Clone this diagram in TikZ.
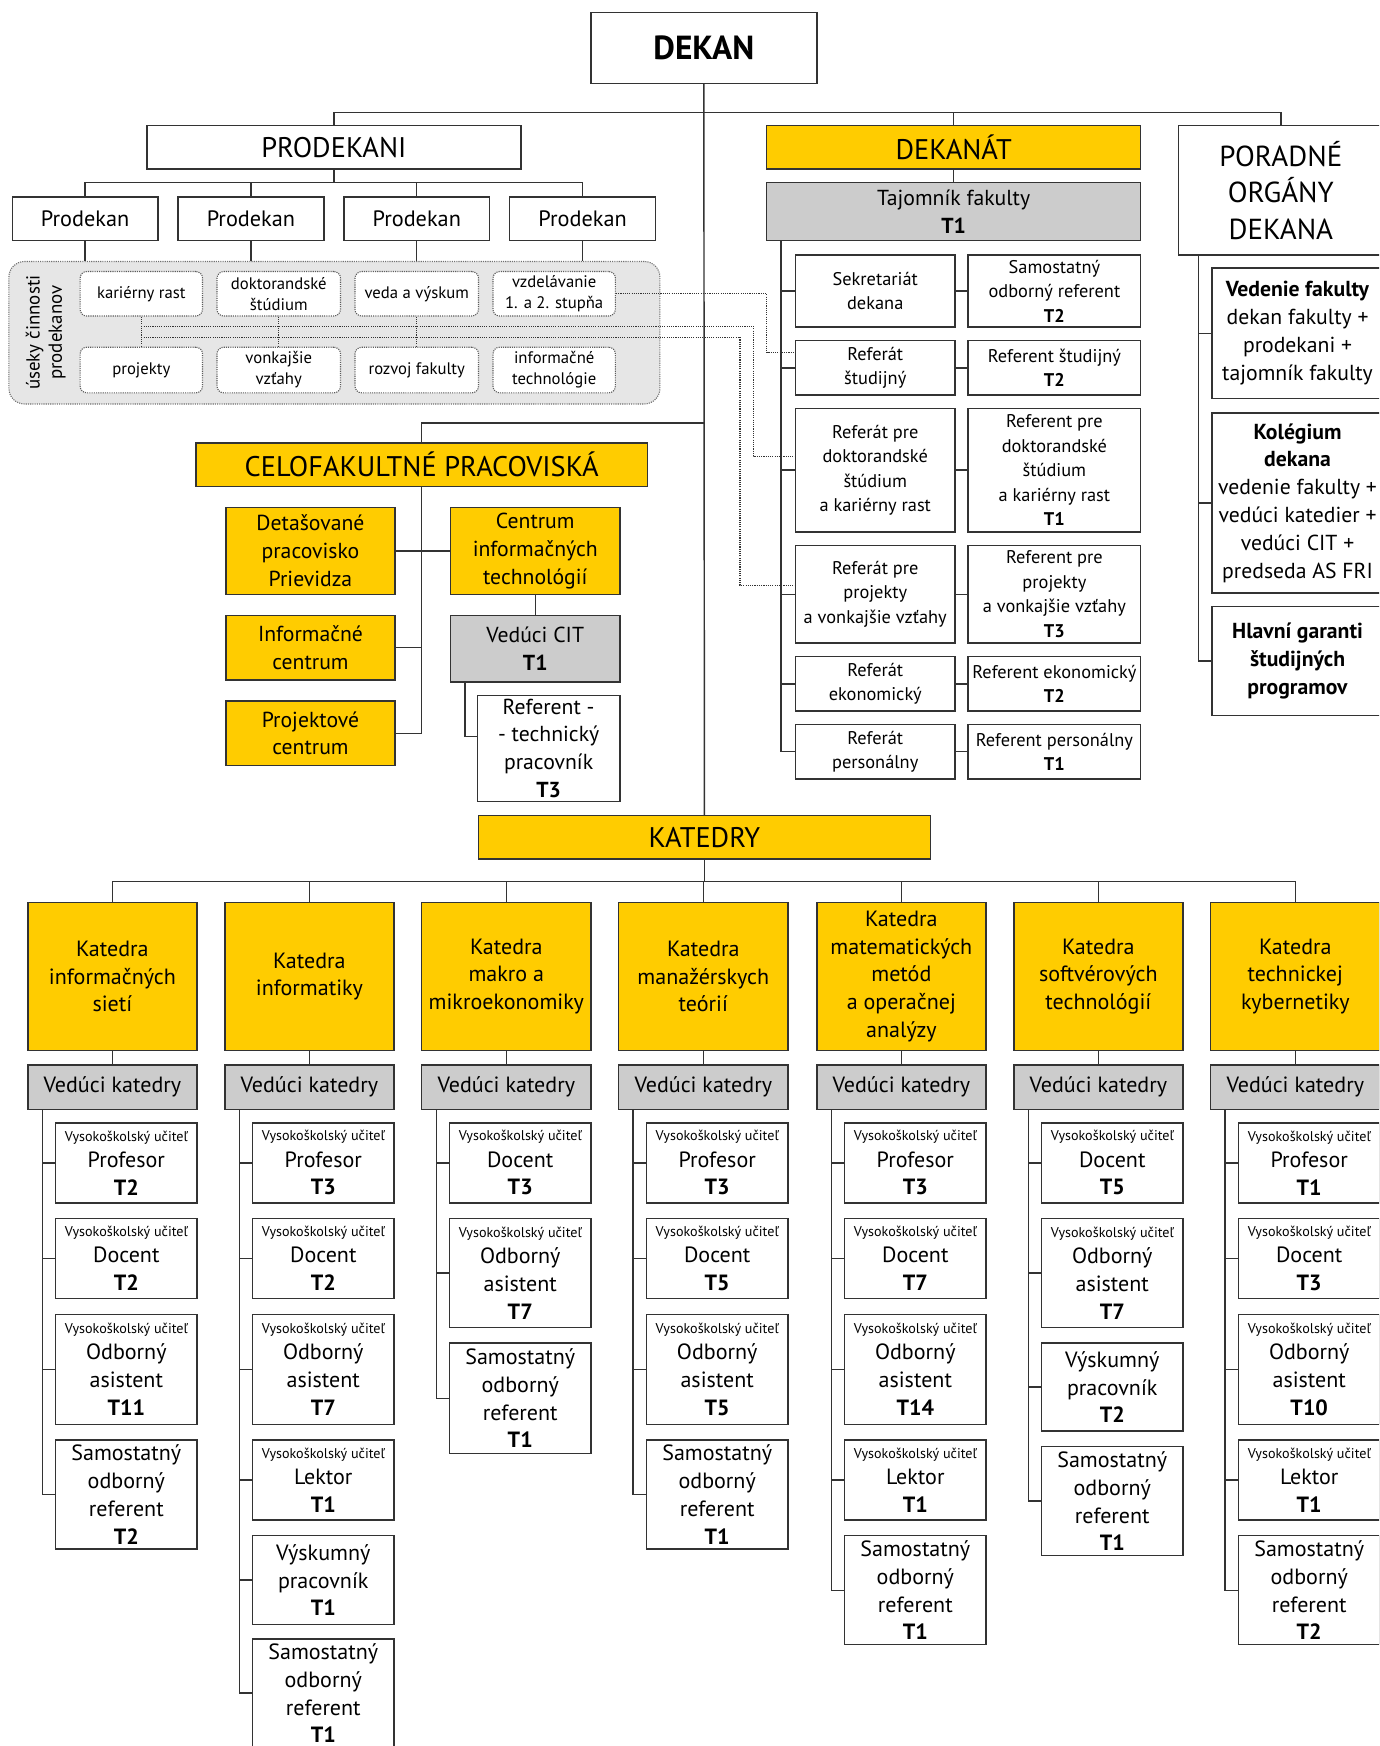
\documentclass[tikz,border=0pt]{standalone}
\usepackage{fontspec}
\setmainfont{PT Sans}
\definecolor{yel}{HTML}{FFCC00}
\definecolor{gr}{HTML}{CCCCCC}
\definecolor{ln}{HTML}{333333}
\definecolor{usbg}{HTML}{E6E6E6}
\newcommand\fdekan{\fontsize{30}{34}\selectfont\bfseries}
\newcommand\fbig{\fontsize{25.5}{30}\selectfont}
\newcommand\fprod{\fontsize{20}{24}\selectfont}
\newcommand\fus{\fontsize{15}{19}\selectfont}
\newcommand\fusl{\fontsize{17}{20}\selectfont}
\newcommand\fdek{\fontsize{16.5}{22}\selectfont}
\newcommand\fmid{\fontsize{19.5}{25}\selectfont}
\newcommand\fpor{\fontsize{26}{33}\selectfont}
\newcommand\fch{\fontsize{19.8}{25}\selectfont}
\newcommand\fvu{\fontsize{12.7}{14}\selectfont}
\tikzset{
 base/.style={draw=ln, line width=1.3pt, inner sep=0pt, align=center, anchor=center},
 wbox/.style={base, fill=white},
 ybox/.style={base, fill=yel},
 gbox/.style={base, fill=gr},
 usk/.style={draw=ln!70, densely dotted, line width=1pt, rounded corners=14pt, fill=usbg, inner sep=0pt},
 dbox/.style={draw=ln!80, densely dotted, line width=1pt, rounded corners=6pt, fill=white, inner sep=0pt, align=center, font=\fus},
 conn/.style={draw=ln, line width=1.3pt},
 dconn/.style={draw=ln, line width=1pt, densely dotted},
}
\newcommand\bx[7]{%
 \pgfmathsetmacro\bxw{(#5)-(#3)}%
 \pgfmathsetmacro\bxh{(#6)-(#4)}%
 \pgfmathsetmacro\bxcx{((#3)+(#5))/2}%
 \pgfmathsetmacro\bxcy{((#4)+(#6))/2}%
 \node[#2, minimum width=\bxw pt, minimum height=\bxh pt] (#1) at (\bxcx,\bxcy) {#7};}
\newcommand\kc[5]{\bx{#1}{wbox,font=\fch}{(#2)+25}{#3}{(#2)+152}{#4}{#5}}
\newcommand\vu[2]{{\fvu Vysokoškolský učiteľ}\\[-1.5pt]#1\\\textbf{#2}}
\newcommand\vuoa[1]{{\fvu Vysokoškolský učiteľ}\\[-1.5pt]Odborný\\asistent\\\textbf{#1}}
\newcommand\sor[1]{Samostatný\\odborný\\referent\\\textbf{#1}}
\newcommand\kat[3]{%
 \bx{k#1}{ybox,font=\fch}{#2}{811}{(#2)+152}{944}{#3}
 \bx{v#1}{gbox,font=\fch}{#2}{957}{(#2)+152}{997}{Vedúci katedry}
 \draw[conn] (k#1.south) -- (v#1.north);
 \draw[conn] (k#1.north) -- (k#1.north |- 0,792);
 \pgfmathsetmacro\vlx{(#2)+13}
 \coordinate (vl#1) at (\vlx,997);}
\begin{document}
\begin{tikzpicture}[x=1pt,y=-1pt]
\useasboundingbox (0,0) rectangle (1240,1569);
\fill[white] (0,0) rectangle (1240,1569);
\clip (0,0) rectangle (1239.2,1569);
% ---------- top ----------
\bx{dekan}{wbox,font=\fdekan}{531}{11}{734}{75}{DEKAN}
\bx{katedry}{ybox,font=\fbig}{430}{733}{836}{772}{KATEDRY}
\draw[conn] (dekan.south) -- (katedry.north);
\bx{prodekani}{wbox,font=\fbig}{132}{113}{468}{152}{PRODEKANI}
\bx{dekanat}{ybox,font=\fbig}{689}{113}{1025}{152}{DEKANÁT}
\bx{poradne}{wbox,font=\fpor}{1059}{113}{1243}{229}{PORADNÉ\\ORGÁNY\\DEKANA}
\coordinate (hA) at (632.5,101);
\draw[conn] (prodekani.north) |- (poradne.north |- hA) -- (poradne.north);
\draw[conn] (dekanat.north) -- (dekanat.north |- hA);
% ---------- prodekani ----------
\bx{p1}{wbox,font=\fprod}{11}{177}{142}{216}{Prodekan}
\bx{p2}{wbox,font=\fprod}{160}{177}{291}{216}{Prodekan}
\bx{p3}{wbox,font=\fprod}{309}{177}{440}{216}{Prodekan}
\bx{p4}{wbox,font=\fprod}{458}{177}{589}{216}{Prodekan}
\coordinate (hP) at (300,164);
\draw[conn] (prodekani.south) -- (hP);
\draw[conn] (p1.north) |- (hP) -| (p4.north);
\draw[conn] (p2.north) -- (p2.north |- hP);
\draw[conn] (p3.north) -- (p3.north |- hP);
\bx{useky}{usk}{8}{235}{593}{363}{}
\foreach \i in {1,2,3,4} {\draw[conn] (p\i.south) -- (p\i.south |- useky.north);}
\node[rotate=90, font=\fusl, align=center, inner sep=0pt] (uslab) at (41,299) {úseky činnosti\\prodekanov};
\bx{u1}{dbox}{72}{244}{182}{284}{kariérny rast}
\bx{u2}{dbox}{195}{244}{306}{284}{doktorandské\\štúdium}
\bx{u3}{dbox}{319}{244}{430}{284}{veda a výskum}
\bx{u4}{dbox}{443}{244}{553}{284}{vzdelávanie\\1. a 2. stupňa}
\bx{u5}{dbox}{72}{312}{182}{353}{projekty}
\bx{u6}{dbox}{195}{312}{306}{353}{vonkajšie\\vzťahy}
\bx{u7}{dbox}{319}{312}{430}{353}{rozvoj fakulty}
\bx{u8}{dbox}{443}{312}{553}{353}{informačné\\technológie}
\draw[dconn] (u1.south) -- (u5.north);
\draw[dconn] (u2.south) -- (u6.north);
\draw[dconn] (u3.south) -- (u7.north);
% ---------- dekanat ----------
\bx{tajomnik}{gbox,font=\fmid}{689}{164}{1025}{216}{Tajomník fakulty\\\textbf{T1}}
\draw[conn] (dekanat.south) -- (tajomnik.north);
\bx{rsek}{wbox,font=\fdek}{715}{229}{858}{294}{Sekretariát\\dekana}
\bx{ssek}{wbox,font=\fdek}{870}{229}{1025}{294}{Samostatný\\odborný referent\\\textbf{T2}}
\bx{rstud}{wbox,font=\fdek}{715}{306}{858}{355}{Referát\\študijný}
\bx{sstud}{wbox,font=\fdek}{870}{306}{1025}{355}{Referent študijný\\\textbf{T2}}
\bx{rdok}{wbox,font=\fdek}{715}{367}{858}{478}{Referát pre\\doktorandské\\štúdium\\a kariérny rast}
\bx{sdok}{wbox,font=\fdek}{870}{367}{1025}{478}{Referent pre\\doktorandské\\štúdium\\a kariérny rast\\\textbf{T1}}
\bx{rproj}{wbox,font=\fdek}{715}{490}{858}{578}{Referát pre\\projekty\\a vonkajšie vzťahy}
\bx{sproj}{wbox,font=\fdek}{870}{490}{1025}{578}{Referent pre\\projekty\\a vonkajšie vzťahy\\\textbf{T3}}
\bx{rek}{wbox,font=\fdek}{715}{590}{858}{639}{Referát\\ekonomický}
\bx{sek}{wbox,font=\fdek}{870}{590}{1025}{639}{Referent ekonomický\\\textbf{T2}}
\bx{rper}{wbox,font=\fdek}{715}{651}{858}{700}{Referát\\personálny}
\bx{sper}{wbox,font=\fdek}{870}{651}{1025}{700}{Referent personálny\\\textbf{T1}}
\coordinate (dv) at (702,216);
\draw[conn] (dv) |- (rper.west);
\foreach \n in {rsek,rstud,rdok,rproj,rek} {\draw[conn] (\n.west) -- (\n.west -| dv);}
\draw[conn] (rsek.east) -- (ssek.west);
\draw[conn] (rstud.east) -- (sstud.west);
\draw[conn] (rdok.east) -- (sdok.west);
\draw[conn] (rproj.east) -- (sproj.west);
\draw[conn] (rek.east) -- (sek.west);
\draw[conn] (rper.east) -- (sper.west);
% dotted links
\draw[dconn] (u4.east) -| (689,317) -- (rstud.west |- 0,317);
\draw[dconn] (u1.south |- 0,293) -| (677,410) -- (rdok.west |- 0,410);
\draw[dconn] (u1.south |- 0,303) -| (665,526) -- (rproj.west |- 0,526);
% ---------- poradne ----------
\bx{vedenie}{wbox,font=\fmid}{1089}{241}{1243}{358}{\textbf{Vedenie fakulty}\\dekan fakulty +\\prodekani +\\tajomník fakulty}
\bx{kolegium}{wbox,font=\fmid}{1089}{371}{1243}{533}{\textbf{Kolégium}\\\textbf{dekana}\\vedenie fakulty +\\vedúci katedier +\\vedúci CIT +\\predseda AS FRI}
\bx{garanti}{wbox,font=\fmid}{1089}{545}{1243}{643}{\textbf{Hlavní garanti}\\\textbf{študijných}\\\textbf{programov}}
\coordinate (pv) at (1077,229);
\draw[conn] (pv) |- (garanti.west);
\draw[conn] (vedenie.west) -- (vedenie.west -| pv);
\draw[conn] (kolegium.west) -- (kolegium.west -| pv);
% ---------- celofakultne ----------
\bx{celo}{ybox,font=\fbig}{176}{398}{582}{437}{CELOFAKULTNÉ PRACOVISKÁ}
\bx{det}{ybox,font=\fmid}{203}{456}{355}{534}{Detašované\\pracovisko\\Prievidza}
\bx{cit}{ybox,font=\fmid}{405}{456}{557}{534}{Centrum\\informačných\\technológií}
\bx{inf}{ybox,font=\fmid}{203}{553}{355}{611}{Informačné\\centrum}
\bx{proj}{ybox,font=\fmid}{203}{630}{355}{688}{Projektové\\centrum}
\bx{vcit}{gbox,font=\fmid}{405}{553}{557}{613}{Vedúci CIT\\\textbf{T1}}
\bx{reftech}{wbox,font=\fmid}{429}{625}{557}{720}{Referent -\\- technický\\pracovník\\\textbf{T3}}
\draw[conn] (celo.north) |- (dekan.south |- 0,380);
\draw[conn] (celo.south) -- (celo.south |- proj.east) -- (proj.east);
\draw[conn] (det.east) -- (cit.west);
\draw[conn] (inf.east) -- (inf.east -| celo.south);
\draw[conn] (cit.south) -- (vcit.north);
\draw[conn] (vcit.south -| 418,0) |- (reftech.west |- 0,662);
% ---------- katedry ----------
\draw[conn] (katedry.south) -- (katedry.south |- 0,792);
\kat{1}{25}{Katedra\\informačných\\sietí}
\kat{2}{202}{Katedra\\informatiky}
\kat{3}{379}{Katedra\\makro a\\mikroekonomiky}
\kat{4}{556}{Katedra\\manažérskych\\teórií}
\kat{5}{734}{Katedra\\matematických\\metód\\a operačnej\\analýzy}
\kat{6}{911}{Katedra\\softvérových\\technológií}
\kat{7}{1088}{Katedra\\technickej\\kybernetiky}
\draw[conn] (k1.north |- 0,792) -- (k7.north |- 0,792);
% col 1
\kc{c1a}{25}{1009}{1081}{\vu{Profesor}{T2}}
\kc{c1b}{25}{1095}{1167}{\vu{Docent}{T2}}
\kc{c1c}{25}{1181}{1280}{\vuoa{T11}}
\kc{c1d}{25}{1294}{1392}{\sor{T2}}
\draw[conn] (vl1) |- (c1d.west);
\foreach \n in {c1a,c1b,c1c} {\draw[conn] (\n.west) -- (\n.west -| vl1);}
% col 2
\kc{c2a}{202}{1009}{1081}{\vu{Profesor}{T3}}
\kc{c2b}{202}{1095}{1167}{\vu{Docent}{T2}}
\kc{c2c}{202}{1181}{1280}{\vuoa{T7}}
\kc{c2d}{202}{1294}{1366}{\vu{Lektor}{T1}}
\kc{c2e}{202}{1380}{1460}{Výskumný\\pracovník\\\textbf{T1}}
\kc{c2f}{202}{1473}{1570}{\sor{T1}}
\draw[conn] (vl2) |- (c2f.west);
\foreach \n in {c2a,c2b,c2c,c2d,c2e} {\draw[conn] (\n.west) -- (\n.west -| vl2);}
% col 3
\kc{c3a}{379}{1009}{1081}{\vu{Docent}{T3}}
\kc{c3b}{379}{1095}{1193}{\vuoa{T7}}
\kc{c3c}{379}{1207}{1306}{\sor{T1}}
\draw[conn] (vl3) |- (c3c.west);
\foreach \n in {c3a,c3b} {\draw[conn] (\n.west) -- (\n.west -| vl3);}
% col 4
\kc{c4a}{556}{1009}{1081}{\vu{Profesor}{T3}}
\kc{c4b}{556}{1095}{1167}{\vu{Docent}{T5}}
\kc{c4c}{556}{1181}{1280}{\vuoa{T5}}
\kc{c4d}{556}{1294}{1392}{\sor{T1}}
\draw[conn] (vl4) |- (c4d.west);
\foreach \n in {c4a,c4b,c4c} {\draw[conn] (\n.west) -- (\n.west -| vl4);}
% col 5
\kc{c5a}{734}{1009}{1081}{\vu{Profesor}{T3}}
\kc{c5b}{734}{1095}{1167}{\vu{Docent}{T7}}
\kc{c5c}{734}{1181}{1280}{\vuoa{T14}}
\kc{c5d}{734}{1294}{1366}{\vu{Lektor}{T1}}
\kc{c5e}{734}{1380}{1478}{\sor{T1}}
\draw[conn] (vl5) |- (c5e.west);
\foreach \n in {c5a,c5b,c5c,c5d} {\draw[conn] (\n.west) -- (\n.west -| vl5);}
% col 6
\kc{c6a}{911}{1009}{1081}{\vu{Docent}{T5}}
\kc{c6b}{911}{1095}{1193}{\vuoa{T7}}
\kc{c6c}{911}{1207}{1286}{Výskumný\\pracovník\\\textbf{T2}}
\kc{c6d}{911}{1300}{1398}{\sor{T1}}
\draw[conn] (vl6) |- (c6d.west);
\foreach \n in {c6a,c6b,c6c} {\draw[conn] (\n.west) -- (\n.west -| vl6);}
% col 7
\kc{c7a}{1088}{1009}{1081}{\vu{Profesor}{T1}}
\kc{c7b}{1088}{1095}{1167}{\vu{Docent}{T3}}
\kc{c7c}{1088}{1181}{1280}{\vuoa{T10}}
\kc{c7d}{1088}{1294}{1366}{\vu{Lektor}{T1}}
\kc{c7e}{1088}{1380}{1478}{\sor{T2}}
\draw[conn] (vl7) |- (c7e.west);
\foreach \n in {c7a,c7b,c7c,c7d} {\draw[conn] (\n.west) -- (\n.west -| vl7);}
\end{tikzpicture}
\end{document}
